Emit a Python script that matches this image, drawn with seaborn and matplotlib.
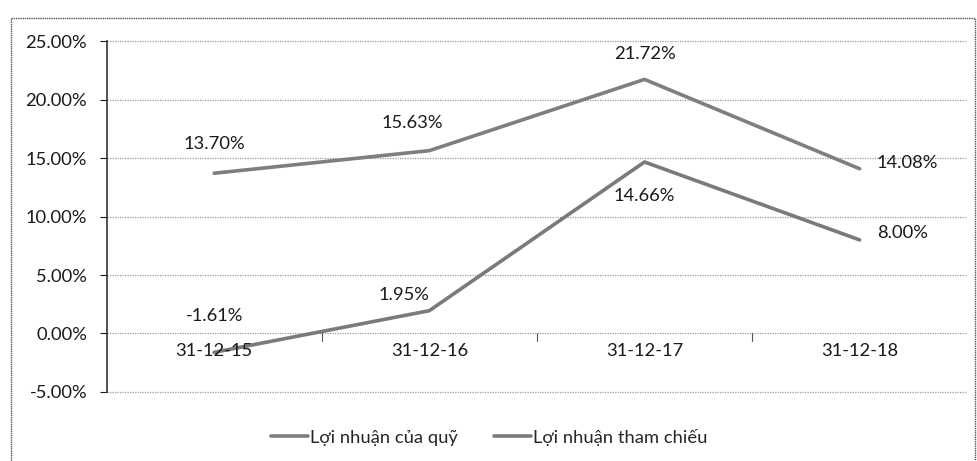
import matplotlib
matplotlib.use("Agg")
import matplotlib.pyplot as plt
import seaborn as sns
import pandas as pd
from matplotlib.patches import Rectangle
from matplotlib.lines import Line2D
from matplotlib.ticker import FuncFormatter, MultipleLocator

dates = ["31-12-15", "31-12-16", "31-12-17", "31-12-18"]
fund = [13.70, 15.63, 21.72, 14.08]
bench = [-1.61, 1.95, 14.66, 8.00]
series_names = ["Lợi nhuận của quỹ", "Lợi nhuận tham chiếu"]

sns.set_theme(style="white")
plt.rcParams['font.family'] = ['Lato', 'DejaVu Sans']
FS = 13.2
TXT = "#1a1a1a"

df = pd.DataFrame({
    "date": dates * 2,
    "value": fund + bench,
    "series": [series_names[0]] * 4 + [series_names[1]] * 4,
})
df["x"] = df["date"].map({d: i for i, d in enumerate(dates)})

fig = plt.figure(figsize=(9.78, 4.61), dpi=100)
ax = fig.add_axes([0.109, 0.1497, 0.880, 0.7613])

sns.lineplot(data=df, x="x", y="value", hue="series",
             palette=["#7f7f7f", "#7a7a7a"], linewidth=2.6, ax=ax, legend=False)

ax.set_xlim(-0.5, 3.5)
ax.set_ylim(-5, 25)
ax.yaxis.set_major_locator(MultipleLocator(5))
ax.yaxis.set_major_formatter(FuncFormatter(lambda v, p: f"{v:.2f}%"))
ax.grid(False)
for yv in range(-5, 30, 5):
    ax.axhline(yv, color="#9a9a9a", linewidth=0.9, linestyle=(0, (1, 1)),
               zorder=0.5, clip_on=False)
ax.set_xlabel("")
ax.set_ylabel("")
ax.set_xticks([])
for s in ["top", "right", "bottom"]:
    ax.spines[s].set_visible(False)
ax.spines["left"].set_color("#333333")
ax.spines["left"].set_linewidth(1.2)
ax.tick_params(axis="y", labelsize=FS, colors=TXT, length=5, width=0.8,
               direction="out", left=True, pad=9)
for lab in ax.get_yticklabels():
    lab.set_color(TXT)

# category labels along the 0 line
for i, d in enumerate(dates):
    ax.text(i, -0.8, d, ha="center", va="top", fontsize=FS, color=TXT)
for b in [0.5, 1.5, 2.5]:
    ax.plot([b, b], [0, -0.6], color="#555555", linewidth=0.8)

# data labels
fund_off = [(0, 2.5, "center"), (-0.08, 2.4, "center"), (0, 2.2, "center"), (0.08, 0.5, "left")]
bench_off = [(0, 3.1, "center"), (-0.12, 1.3, "center"), (0, -2.9, "center"), (0.08, 0.6, "left")]
for i, v in enumerate(fund):
    dx, dy, ha = fund_off[i]
    ax.text(i + dx, v + dy, f"{v:.2f}%", ha=ha, va="center", fontsize=FS, color=TXT)
for i, v in enumerate(bench):
    dx, dy, ha = bench_off[i]
    ax.text(i + dx, v + dy, f"{v:.2f}%", ha=ha, va="center", fontsize=FS, color=TXT)

# legend
handles = [Line2D([0], [0], color="#7f7f7f", lw=2.6), Line2D([0], [0], color="#7a7a7a", lw=2.6)]
fig.legend(handles, series_names, loc="center", bbox_to_anchor=(0.5, 0.052), ncol=2,
           frameon=False, fontsize=FS, handlelength=2.0, handletextpad=0.1,
           columnspacing=2.0)

# outer frame
fig.patches.append(Rectangle((0.011, -0.02), 0.986, 0.98, transform=fig.transFigure,
                             fill=False, edgecolor="#555555", linewidth=1.0,
                             linestyle=(0, (1, 0.6))))

fig.savefig("out.png", dpi=100)
